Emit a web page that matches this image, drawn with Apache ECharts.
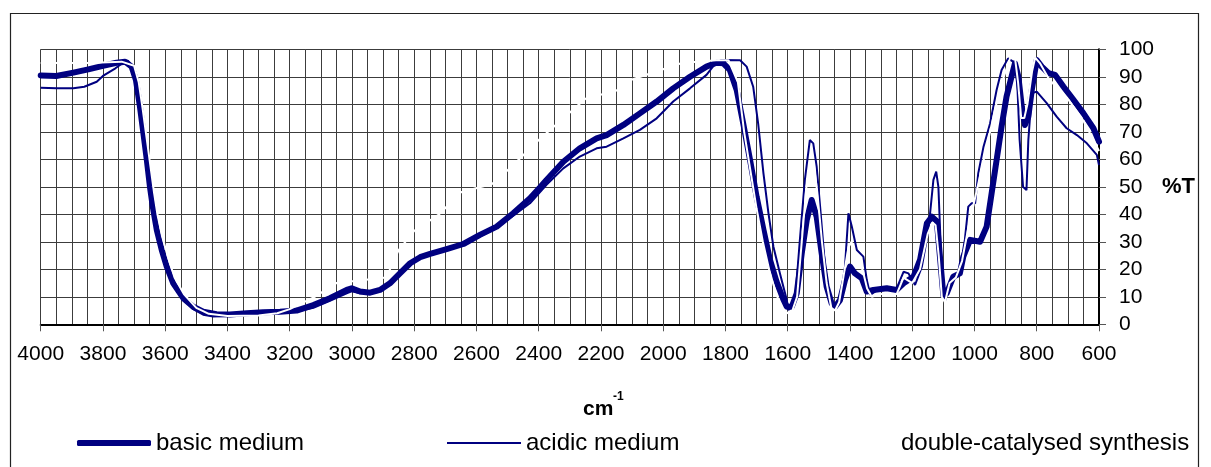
<!DOCTYPE html>
<html>
<head>
<meta charset="utf-8">
<script src="https://cdn.jsdelivr.net/npm/echarts@6/dist/echarts.min.js"></script>
<style>
    html, body { margin: 0; padding: 0; background: #fff; }
    #ir_chart { width: 1211px; height: 467px; }
</style>
</head>
<body>
<div id="ir_chart"></div>
<script>
// Spectrum data (wavenumber cm-1 / %T)
var basicWn = [4000, 3950, 3895, 3847, 3800, 3756, 3729, 3708, 3694, 3681, 3670, 3659, 3649, 3640, 3627, 3611, 3595, 3574, 3542, 3510, 3478, 3435, 3392, 3338, 3285, 3231, 3178, 3124, 3071, 3017, 3001, 2974, 2942, 2910, 2878, 2846, 2813, 2781, 2749, 2696, 2642, 2589, 2535, 2482, 2428, 2394, 2375, 2321, 2268, 2214, 2182, 2128, 2075, 2021, 1968, 1914, 1861, 1829, 1807, 1786, 1764, 1743, 1721, 1700, 1678, 1657, 1636, 1614, 1603, 1587, 1571, 1555, 1539, 1523, 1507, 1491, 1475, 1459, 1448, 1432, 1416, 1400, 1384, 1362, 1346, 1325, 1282, 1250, 1228, 1196, 1175, 1153, 1137, 1121, 1111, 1100, 1089, 1068, 1047, 1036, 1014, 982, 961, 945, 929, 913, 897, 881, 870, 859, 848, 838, 827, 816, 800, 784, 762, 741, 714, 682, 650, 618, 600];
var basicT = [90.5, 90.3, 91.5, 92.7, 94, 95.1, 95.5, 93.7, 88.8, 79, 69.4, 59.7, 50, 42.8, 34.3, 27, 21, 14.9, 9.5, 6.4, 4.6, 3.7, 3.6, 4, 4.4, 4.6, 5, 7, 9.5, 12.5, 13.1, 11.9, 11.5, 12.5, 14.9, 18.5, 22.2, 24.4, 25.6, 27.3, 29.2, 32.5, 35.5, 40.4, 45.8, 50, 52.5, 59.1, 64, 67.6, 68.8, 72.5, 76.7, 81, 85.8, 90, 93.7, 95.1, 94.9, 92.5, 85.2, 73, 59.7, 46.4, 34.3, 23.4, 15.5, 9, 6.4, 6.4, 11.3, 25.8, 37.9, 45.2, 39.1, 25.8, 13.7, 7.6, 6.4, 8.8, 16.1, 21, 18.5, 16.7, 11.9, 12.5, 13.1, 12.5, 14.9, 17.3, 23.4, 36.7, 39.1, 37.5, 24.6, 10.5, 11.3, 17.3, 18.5, 24.6, 30.7, 30, 35.5, 47.6, 59.7, 71.9, 82.8, 90, 94.9, 90, 79.1, 72.5, 75.5, 85.2, 96.1, 93.7, 91.3, 90.7, 86.4, 81.6, 76.7, 71.3, 66.4];

var acidicWn = [4000, 3949, 3895, 3860, 3820, 3800, 3760, 3735, 3720, 3705, 3694, 3681, 3670, 3659, 3649, 3640, 3627, 3611, 3595, 3574, 3542, 3510, 3478, 3446, 3400, 3338, 3285, 3231, 3178, 3124, 3071, 3017, 3001, 2974, 2942, 2910, 2878, 2846, 2813, 2781, 2749, 2696, 2642, 2589, 2535, 2482, 2428, 2375, 2321, 2268, 2214, 2182, 2128, 2075, 2021, 1968, 1914, 1861, 1836, 1815, 1753, 1732, 1711, 1695, 1678, 1662, 1646, 1625, 1603, 1598, 1577, 1561, 1545, 1529, 1518, 1507, 1496, 1480, 1464, 1448, 1432, 1416, 1405, 1394, 1378, 1357, 1346, 1335, 1303, 1250, 1228, 1212, 1191, 1169, 1148, 1132, 1123, 1116, 1105, 1094, 1078, 1057, 1047, 1031, 1020, 1009, 998, 988, 971, 950, 929, 913, 892, 876, 863, 855, 844, 833, 827, 816, 800, 768, 736, 704, 671, 639, 607, 600];
var acidicT = [86, 85.8, 85.8, 86.4, 88.2, 90.3, 93.1, 95.1, 95.9, 94, 89, 80, 70, 60, 50.5, 43.5, 35, 27.5, 21.5, 15, 9, 5.5, 3.5, 2.8, 3, 3.6, 4, 4.2, 4.6, 6, 8.5, 11.3, 12, 11.3, 11.3, 12, 14.5, 18, 21.8, 24, 25.3, 27, 29, 32, 35, 39.5, 44, 50.7, 56.7, 61, 64, 64.6, 67.6, 70.7, 74.9, 81, 85.8, 90.7, 94.3, 96.1, 96, 93.7, 86.4, 73, 54.9, 40.4, 28.2, 18.5, 8.8, 5.2, 7.6, 30.7, 52.5, 67, 65.8, 57.3, 42.8, 21, 8.8, 5.8, 8.8, 21, 40.4, 35.5, 27, 24.6, 16.1, 10.7, 13.1, 13.1, 19.1, 18.5, 14.3, 21, 34.3, 52.5, 55.5, 50, 18.5, 8.8, 14.9, 18.5, 19.7, 30.7, 42.8, 44, 44, 54.9, 64.6, 73, 85.2, 92.5, 96.7, 95.5, 88.8, 67, 50, 48.8, 67, 84, 84.6, 80.4, 75.5, 71.3, 68.8, 65.8, 61.6, 57.9];

var doubleWn = [4000, 3850, 3740, 3700, 3685, 3672, 3660, 3648, 3636, 3625, 3610, 3590, 3570, 3540, 3500, 3460, 3400, 3300, 3240, 3200, 3120, 3050, 2890, 2850, 2800, 2720, 2650, 2550, 2490, 2400, 2320, 2250, 2150, 2100, 1940, 1830, 1790, 1760, 1740, 1720, 1700, 1680, 1660, 1640, 1620, 1600, 1585, 1570, 1555, 1540, 1525, 1515, 1505, 1490, 1475, 1460, 1448, 1435, 1420, 1405, 1395, 1380, 1360, 1345, 1330, 1300, 1250, 1228, 1200, 1175, 1150, 1135, 1125, 1115, 1105, 1095, 1080, 1060, 1040, 1020, 1000, 980, 960, 940, 920, 900, 885, 870, 860, 850, 840, 830, 815, 805, 790, 760, 700, 650, 600];
var doubleT = [95, 95, 95.5, 94, 88, 78, 68, 58, 48, 40, 32, 24, 17, 11, 6, 3.8, 3, 3.2, 4, 5.5, 10, 15, 17, 27, 34, 40, 48, 51, 57, 67, 75, 82, 85, 89, 95, 96, 96, 88, 70, 56, 42, 30, 20, 12, 6, 4, 5, 10, 30, 50, 58, 57, 48, 30, 15, 6, 5, 8, 18, 28, 30, 22, 20, 13, 10, 11, 11, 17, 15, 20, 33, 37, 36, 25, 10, 8, 15, 17, 23, 35, 45, 55, 65, 75, 85, 92, 97, 97, 88, 75, 75, 80, 92, 97, 95, 89, 82, 74, 63];

var xTickLabels = ['600', '800', '1000', '1200', '1400', '1600', '1800', '2000', '2200', '2400', '2600', '2800', '3000', '3200', '3400', '3600', '3800', '4000'];

function pairs(wn, t) {
    var out = [];
    for (var i = 0; i < wn.length; i++) {
        out.push([wn[i], t[i]]);
    }
    return out;
}

var FONT = '"Liberation Sans", Arial, sans-serif';
var NAVY = '#000080';

// Initialize chart
// ------------------------------

var ir_chart = echarts.init(document.getElementById('ir_chart'), null, {renderer: 'canvas'});

var legendText = {fontSize: 24, color: '#000', fontFamily: FONT};

var ir_options = {
    animation: false,
    backgroundColor: '#fff',

    grid: {
        left: 40.7,
        right: 112,
        top: 49.3,
        bottom: 142.7
    },

    // Three separate legends so each item sits where it does in the picture
    legend: [{
        data: ['basic medium'],
        left: 72, top: 426,
        icon: 'roundRect',
        itemWidth: 74, itemHeight: 6,
        textStyle: legendText
    }, {
        data: ['acidic medium'],
        left: 442, top: 426,
        icon: 'rect',
        itemWidth: 74, itemHeight: 2,
        textStyle: legendText
    }, {
        data: ['double-catalysed synthesis'],
        left: 817, top: 426,
        icon: 'rect',
        itemWidth: 74, itemHeight: 2,
        textStyle: legendText
    }],

    xAxis: [{
        // fine grid every 50 cm-1
        type: 'value',
        min: 600, max: 4000, interval: 50,
        inverse: true,
        position: 'bottom',
        axisLine: {show: false},
        axisTick: {show: false},
        axisLabel: {show: false},
        splitLine: {show: true, lineStyle: {color: '#3c3c3c', width: 1}}
    }, {
        // labelled axis every 200 cm-1
        type: 'value',
        min: 600, max: 4000, interval: 200,
        inverse: true,
        position: 'bottom',
        axisLine: {show: true, onZero: false, lineStyle: {color: '#000', width: 2}},
        axisTick: {show: true, length: 7, lineStyle: {color: '#555', width: 1}},
        axisLabel: {
            margin: 19,
            fontSize: 21,
            color: '#000',
            fontFamily: FONT,
            formatter: function (v) {
                return xTickLabels.indexOf(String(v)) >= 0 ? String(v) : '';
            }
        },
        splitLine: {show: false}
    }],

    yAxis: {
        type: 'value',
        position: 'right',
        min: 0, max: 100, interval: 10,
        axisLine: {show: true, lineStyle: {color: '#000', width: 2}},
        axisTick: {show: true, length: 7, lineStyle: {color: '#555', width: 1}},
        axisLabel: {margin: 20, fontSize: 21, color: '#000', fontFamily: FONT},
        splitLine: {show: true, lineStyle: {color: '#3c3c3c', width: 1}}
    },

    series: [{
        name: 'basic medium',
        type: 'line',
        xAxisIndex: 0,
        symbol: 'none',
        color: NAVY,
        lineStyle: {width: 6, color: NAVY, join: 'round', cap: 'round'},
        data: pairs(basicWn, basicT)
    }, {
        name: 'acidic medium',
        type: 'line',
        xAxisIndex: 0,
        symbol: 'none',
        color: NAVY,
        lineStyle: {width: 2, color: NAVY},
        data: pairs(acidicWn, acidicT)
    }, {
        name: 'double-catalysed synthesis',
        type: 'line',
        xAxisIndex: 0,
        symbol: 'none',
        color: '#fff',
        lineStyle: {width: 2, color: '#fff'},
        data: pairs(doubleWn, doubleT)
    }],

    graphic: [{
        type: 'rect',
        z: -1,
        shape: {x: 10.5, y: 13.5, width: 1188, height: 470},
        style: {fill: 'none', stroke: '#222', lineWidth: 1.2}
    }, {
        type: 'text',
        left: 1162, top: 176,
        style: {text: '%T', font: 'bold 22px ' + FONT, fill: '#000'}
    }, {
        type: 'text',
        left: 583, top: 399,
        style: {text: 'cm', font: 'bold 21px ' + FONT, fill: '#000'}
    }, {
        type: 'text',
        left: 613, top: 391,
        style: {text: '-1', font: 'bold 12px ' + FONT, fill: '#000'}
    }]
};

ir_chart.setOption(ir_options);
</script>
</body>
</html>
